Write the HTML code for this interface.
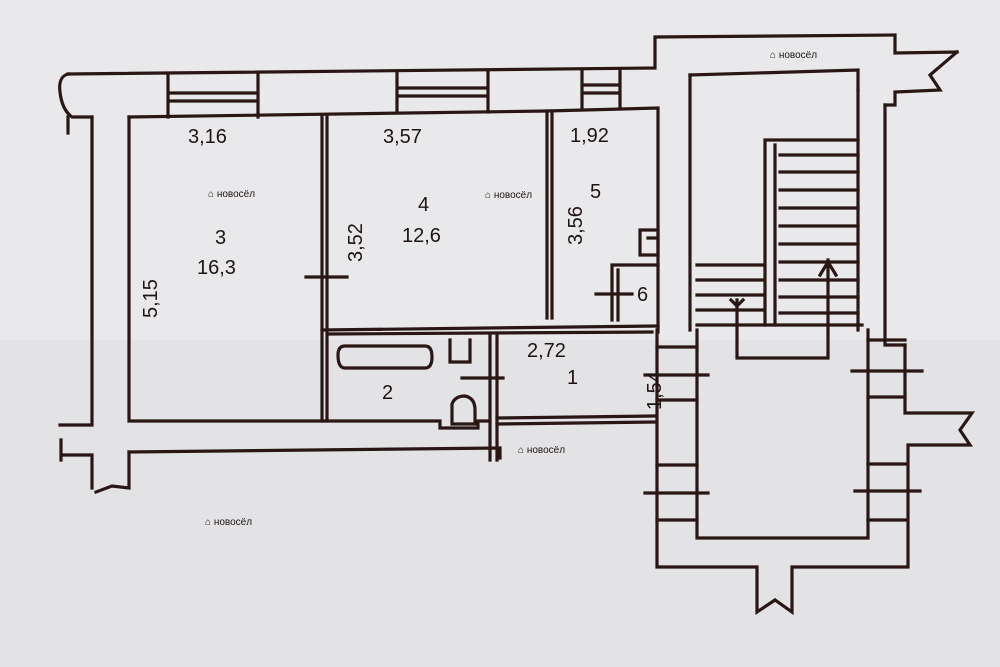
<!DOCTYPE html>
<html><head><meta charset="utf-8"><style>
html,body{margin:0;padding:0;background:#e9e8ea;}
svg{display:block}
text{font-family:"Liberation Sans",sans-serif;fill:#1e1412}
.w{font-family:"Liberation Sans","Noto Sans CJK SC",sans-serif;fill:#e7a6a0;font-size:10px}
</style></head><body>
<svg width="1000" height="667" viewBox="0 0 1000 667" xmlns="http://www.w3.org/2000/svg">
<rect width="1000" height="667" fill="#e9e8ea"/>
<rect y="340" width="1000" height="327" fill="#e3e3e5"/>
<g fill="none" stroke="#2a1715" stroke-width="3.2" stroke-linecap="square">
<path d="M68 74 L655 68 L655 37 L895 35 L895 53 L957 52"/>
<path d="M68 74 Q58 76 60 92 Q62 110 72 117 L92 117 M68 117 L68 133"/>
<path d="M92 117 L92 425 L60 425"/>
<path d="M168 74 V117 M258 74 V117 M170 93 H256 M170 101 H256"/>
<path d="M397 72 V112 M488 72 V112 M399 88 H486 M399 96 H486"/>
<path d="M582 71 V108 M620 71 V108 M584 85 H618 M584 93 H618"/>
<path d="M129 117 L547 111 L658 108 L658 332"/>
<path d="M129 117 L129 421 L440 421 L440 428 L478 428 L478 421 L490 421"/>
<path d="M322 117 V421 M327 117 V421"/>
<path d="M547 111 V318 M552 111 V318"/>
<path d="M322 330 L658 326 M330 334 L652 332"/>
<path d="M490 336 V460 M497 336 V460"/>
<path d="M497 418 L655 416 M497 424 L655 422"/>
<path d="M306 277 H347 M462 378 H503 M596 294 H632"/>
<path d="M612 265 L658 265 M612 265 V320 M618 270 V320"/>
<path d="M640 230 H658 V255 H640 Z M648 238 H658"/>
<path d="M345 346 Q338 346 338 355 Q338 368 345 368 L425 368 Q432 368 432 357 Q432 346 425 346 Z"/>
<path d="M450 340 V362 H470 V340"/>
<path d="M452 404 Q455 396 465 396 Q475 398 475 410 V424 H452 Z"/>
<path d="M129 452 L500 448 L500 458"/>
<path d="M129 452 V488 L112 486 L96 492"/>
<path d="M61 440 V460 M61 455 L92 455 L92 488"/>
<path d="M690 75 L858 70 L858 90"/>
<path d="M690 75 V330"/>
<path d="M858 90 V330 M885 105 V345 L905 345"/>
<path d="M885 105 L895 105 L895 92 L940 90 L930 75 L957 52"/>
<path d="M765 140 L858 140 M765 140 V325 M775 145 V325"/>
<path d="M780 155 H858 M780 172 H858 M780 190 H858 M780 208 H858 M780 226 H858 M780 244 H858 M780 262 H858 M780 280 H858 M780 297 H858 M780 313 H858"/>
<path d="M697 265 H762 M697 280 H762 M697 295 H762 M697 310 H762 M697 325 H862"/>
<path d="M737 300 V358 H828 V290 M828 260 V300 M820 275 L828 262 L836 275 M731 300 L737 306 L743 300"/>
<path d="M697 330 V538 H868 V330"/>
<path d="M657 330 V567 H757 V612 L775 600 L792 612 V567 H908 V445 L970 445 L960 430 L972 413 L905 413 V345"/>
<path d="M657 347 H697 M645 375 H708 M657 400 H697 M657 465 H697 M645 493 H708 M657 520 H697"/>
<path d="M868 340 H905 M852 371 H922 M868 397 H905 M868 464 H905 M855 491 H920 M868 520 H905"/>
</g>
<g font-size="20">
<text x="188" y="143">3,16</text>
<text x="383" y="143">3,57</text>
<text x="570" y="142">1,92</text>
<text x="215" y="244">3</text>
<text x="197" y="274">16,3</text>
<text x="418" y="211">4</text>
<text x="402" y="242">12,6</text>
<text x="590" y="198">5</text>
<text x="637" y="301">6</text>
<text x="382" y="399">2</text>
<text x="567" y="384">1</text>
<text x="527" y="357">2,72</text>
<text transform="translate(157,318) rotate(-90)">5,15</text>
<text transform="translate(362,262) rotate(-90)">3,52</text>
<text transform="translate(582,245) rotate(-90)">3,56</text>
<text transform="translate(661,410) rotate(-90)">1,54</text>
</g>
<g class="w">
<text x="208" y="197">⌂ новосёл</text>
<text x="485" y="198">⌂ новосёл</text>
<text x="518" y="453">⌂ новосёл</text>
<text x="205" y="525">⌂ новосёл</text>
<text x="770" y="58">⌂ новосёл</text>
</g>
</svg>
</body></html>
